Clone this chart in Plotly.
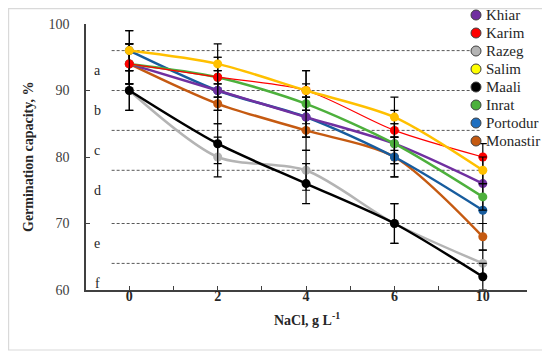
import plotly.graph_objects as go

categories = ["0", "2", "4", "6", "10"]
series_names = ["Khiar", "Karim", "Razeg", "Salim", "Maali", "Inrat", "Portodur", "Monastir"]
khiar = [94, 90, 86, 82, 76]
karim = [94, 92, 90, 84, 80]
razeg = [90, 80, 78, 70, 64]
salim = [96, 94, 90, 86, 78]
maali = [90, 82, 76, 70, 62]
inrat = [94, 92, 88, 82, 74]
portodur = [96, 90, 86, 80, 72]
monastir = [94, 88, 84, 80, 68]
errors = [3, 3, 3, 3, 2]
group_levels = [96, 90, 84, 78, 70, 64]
group_letters = ["a", "b", "c", "d", "e", "f"]
letter_pos = [93, 87, 81, 75, 67, 61]
y_ticks = [60, 70, 80, 90, 100]

values = [khiar, karim, razeg, salim, maali, inrat, portodur, monastir]
colors = ["#7030A0", "#FF0000", "#B4B4B4", "#FFC000", "#000000", "#4DB03C", "#175C9E", "#C55A11"]
legend_colors = ["#7030A0", "#FF0000", "#B4B4B4", "#FFFF00", "#000000", "#4DB03C", "#1F6FC0", "#C55A11"]
widths = [2.5, 1.2, 2.5, 2.5, 2.5, 2.5, 2.5, 2.5]
draw_order = [2, 4, 7, 6, 0, 5, 1, 3]

# page-pixel layout helpers (page has 8px body margin)
PL, PT, PW, PH = 86, 24, 441, 266
def px(x):
    return (x - PL) / PW
def py(y):
    return (PT + PH - y) / PH

xi = list(range(len(categories)))
fig = go.Figure()
serif = "Liberation Serif, DejaVu Serif, Times New Roman, serif"

for i in draw_order:
    fig.add_trace(go.Scatter(
        x=xi, y=values[i], mode="lines+markers", name=series_names[i],
        showlegend=False,
        line=dict(color=colors[i], width=widths[i], shape="spline", smoothing=0.8),
        marker=dict(color=colors[i], size=9),
        error_y=dict(type="data", array=errors, color="#000000", thickness=1.2, width=4),
    ))

shapes = []
for lv in group_levels:
    shapes.append(dict(type="line", xref="x", yref="y", x0=-0.2, x1=3.97, y0=lv, y1=lv,
                       line=dict(color="#595959", width=1, dash="3px,2px"), layer="below"))
shapes.append(dict(type="rect", xref="paper", yref="paper",
                   x0=px(8.6), x1=px(543), y0=py(350), y1=py(8.6),
                   line=dict(color="#D9D9D9", width=1.2), layer="below"))

annotations = []
for t, p in zip(group_letters, letter_pos):
    annotations.append(dict(x=0.025, xref="paper", y=p, yref="y", text=t, showarrow=False,
                            font=dict(family=serif, size=14, color="#262626"), xanchor="center"))
annotations.append(dict(x=0.5, xref="paper", y=py(319), yref="paper",
                        text="<b>NaCl, g L<sup>-1</sup></b>", showarrow=False,
                        font=dict(family=serif, size=14, color="#262626"), yanchor="middle"))
annotations.append(dict(x=px(28), xref="paper", y=0.5, yref="paper",
                        text="<b>Germination capacity, %</b>", showarrow=False, textangle=-90,
                        font=dict(family=serif, size=14, color="#262626"), xanchor="center"))

# legend drawn as markers + text
leg_x, leg_y0, leg_dy, r = 476, 15, 18, 5
for k, n in enumerate(series_names):
    cy = leg_y0 + k * leg_dy
    shapes.append(dict(type="circle", xref="paper", yref="paper",
                       x0=px(leg_x - r), x1=px(leg_x + r), y0=py(cy + r), y1=py(cy - r),
                       fillcolor=legend_colors[k], line=dict(color="#404040", width=1), layer="above"))
    annotations.append(dict(x=px(leg_x + 8), xref="paper", y=py(cy), yref="paper", text=n,
                            showarrow=False, xanchor="left", yanchor="middle",
                            font=dict(family=serif, size=15, color="#262626")))

tickv = [v / 2 for v in range(-1, 10)]
tickt = []
for v in tickv:
    if v == int(v) and 0 <= v <= 4:
        tickt.append("<b>" + categories[int(v)] + "</b>")
    else:
        tickt.append(" ")

fig.update_layout(
    width=542, height=349,
    margin=dict(l=78, r=23, t=16, b=67, autoexpand=False),
    paper_bgcolor="white", plot_bgcolor="white",
    font=dict(family=serif),
    showlegend=False,
    shapes=shapes, annotations=annotations,
    xaxis=dict(range=[-0.49, 4.5], tickvals=tickv, ticktext=tickt, ticks="inside", ticklen=4,
               tickcolor="#404040", showline=True, linecolor="#404040", linewidth=1.5,
               showgrid=False, zeroline=False, automargin=False, ticklabelstandoff=-8,
               tickfont=dict(family=serif, size=14, color="#262626")),
    yaxis=dict(range=[60, 100], tickvals=y_ticks, ticks="inside", ticklen=4,
               tickcolor="#404040", showline=True, linecolor="#404040", linewidth=1.5,
               showgrid=False, zeroline=False, ticklabelstandoff=12, automargin=False,
               tickfont=dict(family=serif, size=14, color="#404040")),
)

fig.write_html("out.html")
